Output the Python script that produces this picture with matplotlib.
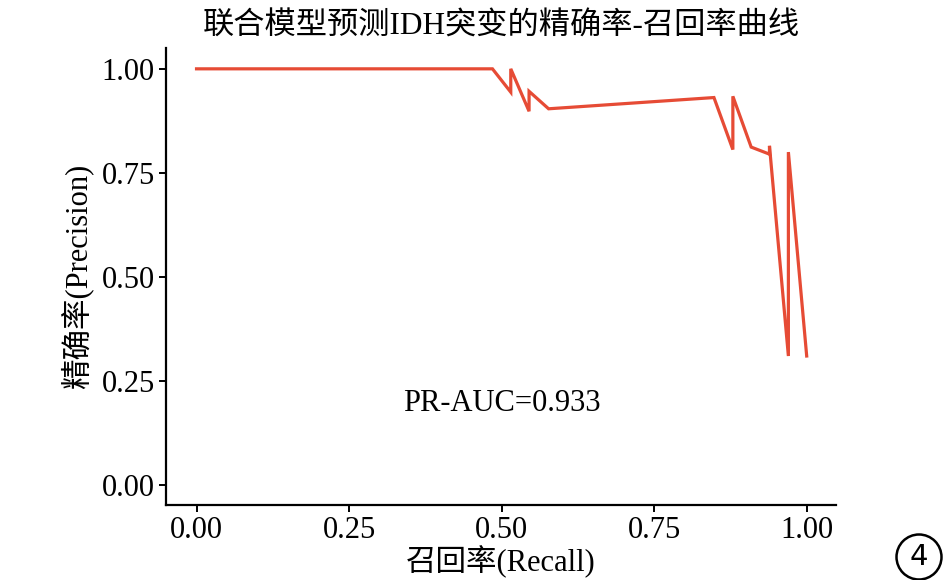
import matplotlib
matplotlib.use("Agg")
import matplotlib.pyplot as plt
from matplotlib.patches import Circle

# PR curve points
recall = [0.0, 0.485, 0.515, 0.515, 0.545, 0.545, 0.577, 0.848, 0.879, 0.879,
          0.909, 0.939, 0.939, 0.970, 0.970, 1.0]
precision = [1.0, 1.0, 0.944, 1.0, 0.898, 0.946, 0.904, 0.931, 0.806, 0.934,
             0.812, 0.795, 0.815, 0.31, 0.80, 0.31]
ticks = [0.00, 0.25, 0.50, 0.75, 1.00]
tick_labels = ["0.00", "0.25", "0.50", "0.75", "1.00"]
auc_text = "PR-AUC=0.933"

plt.rcParams["font.family"] = ["Liberation Serif", "Noto Sans CJK SC"]

fig = plt.figure(figsize=(9.46, 5.8), dpi=100)
ax = fig.add_axes([0.1755, 0.1293, 0.7082, 0.7879])

ax.plot(recall, precision, color="#E64B35", lw=2.3, solid_joinstyle="miter")
ax.text(0.5, 0.197, auc_text, fontsize=22, ha="center", va="center")

ax.set_xlim(-0.05, 1.048)
ax.set_ylim(-0.048, 1.05)
ax.set_xticks(ticks)
ax.set_xticklabels(tick_labels)
ax.set_yticks(ticks)
ax.set_yticklabels(tick_labels)
ax.tick_params(labelsize=22, length=5, width=1.4, color="black", pad=3)
for side in ["top", "right"]:
    ax.spines[side].set_visible(False)
for side in ["left", "bottom"]:
    ax.spines[side].set_linewidth(1.6)

ax.set_title("联合模型预测IDH突变的精确率-召回率曲线", fontsize=22.5, pad=10)
ax.set_xlabel("召回率(Recall)", fontsize=22, labelpad=0)
ax.set_ylabel("精确率(Precision)", fontsize=22, labelpad=6)

# panel label
circ = Circle((9.19, 5.8 - 5.57), 0.225, transform=fig.dpi_scale_trans,
              fill=False, lw=1.8, color="black")
fig.add_artist(circ)
fig.text(919 / 946, 1 - 557 / 580, "4", fontsize=21, family="DejaVu Sans",
         ha="center", va="center")

fig.savefig("out.png", dpi=100)
